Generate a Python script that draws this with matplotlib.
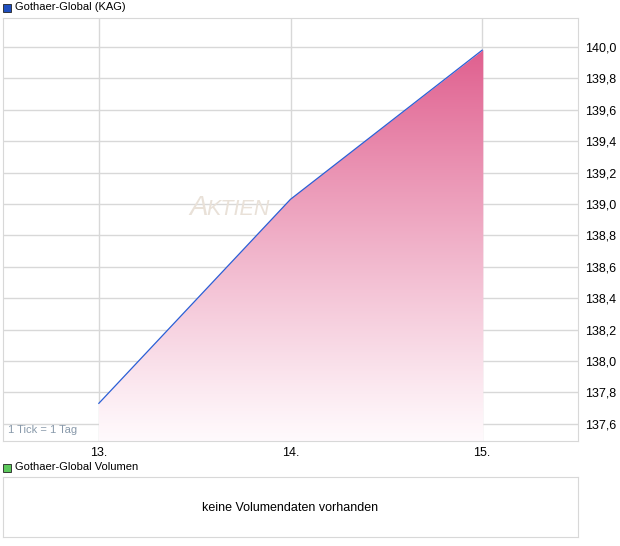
import numpy as np
import matplotlib.pyplot as plt
from matplotlib.patches import Polygon, Rectangle

plt.rcParams['font.family'] = ['Liberation Sans', 'DejaVu Sans']

# Kursdaten (Tag, Kurs)
days = [13, 14, 15]
prices = [137.73, 139.03, 139.98]
y_ticks = [137.6, 137.8, 138.0, 138.2, 138.4, 138.6, 138.8, 139.0, 139.2, 139.4, 139.6, 139.8, 140.0]
x_labels = ['13.', '14.', '15.']

W, H = 620, 546
fig = plt.figure(figsize=(W / 100, H / 100), dpi=100)

grid_col = '#d8d8d8'

# main price panel
ax = fig.add_axes([3 / W, 1 - 441 / H, 575 / W, 423 / H])
ax.set_xlim(12.5, 15.5)
ax.set_ylim(137.49, 140.185)

for s in ax.spines.values():
    s.set_color(grid_col)
ax.set_yticks(y_ticks)
ax.set_yticklabels([f'{v:.1f}'.replace('.', ',') for v in y_ticks])
ax.set_xticks(days)
ax.set_xticklabels(x_labels)
ax.yaxis.tick_right()
ax.tick_params(axis='both', length=0, labelsize=9, colors='black')
ax.tick_params(axis='y', pad=5)
ax.tick_params(axis='x', pad=4)
ax.grid(True, color=grid_col, linewidth=1)
ax.set_axisbelow(True)

# gradient fill below the line
y0, y1 = ax.get_ylim()
edge = 0.006
pts = list(zip(days, prices))
pts[-1] = (days[-1] + edge, prices[-1])
poly = Polygon(pts + [(days[-1] + edge, y0), (days[0], y0)],
               closed=True, facecolor='none', edgecolor='none')
ax.add_patch(poly)
top = np.array([0.878, 0.376, 0.560])
bot = np.array([1.0, 0.98, 0.99])
t = np.linspace(0, 1, 256)[:, None]
grad = (bot + (top - bot) * t ** 1.1)[:, None, :]
im = ax.imshow(grad, extent=[days[0], days[-1] + edge, y0, max(prices)], origin='lower',
               aspect='auto', zorder=2)
im.set_clip_path(poly)
ax.plot(days, prices, color='#2a5fd6', linewidth=0.9, zorder=3)

ax.text(0.325, 0.55, 'A', transform=ax.transAxes, fontsize=20, style='italic',
        color='#e9e1d8', ha='left', va='center', zorder=1)
ax.text(0.354, 0.547, 'KTIEN', transform=ax.transAxes, fontsize=15.5, style='italic',
        color='#e9e1d8', ha='left', va='center', zorder=1)

ax.text(0.008, 0.015, '1 Tick = 1 Tag', transform=ax.transAxes, fontsize=8,
        color='#8899aa', ha='left', va='bottom', zorder=4)

# header legend
fig.patches.append(Rectangle((3 / W, 1 - 12 / H), 8 / W, 8 / H, transform=fig.transFigure,
                             facecolor='#1f4fbf', edgecolor='#222222', linewidth=0.6))
fig.text(15 / W, 1 - 7.5 / H, 'Gothaer-Global (KAG)', fontsize=8, va='center', ha='left')

# volume panel
fig.patches.append(Rectangle((3 / W, 1 - 472 / H), 8 / W, 8 / H, transform=fig.transFigure,
                             facecolor='#5cc85c', edgecolor='#222222', linewidth=0.6))
fig.text(15 / W, 1 - 467.5 / H, 'Gothaer-Global Volumen', fontsize=8, va='center', ha='left')

ax2 = fig.add_axes([3 / W, 1 - 537 / H, 575 / W, 60 / H])
ax2.set_xticks([])
ax2.set_yticks([])
for s in ax2.spines.values():
    s.set_color(grid_col)
ax2.text(0.5, 0.48, 'keine Volumendaten vorhanden', transform=ax2.transAxes,
         fontsize=9, ha='center', va='center')

fig.savefig('out.png', dpi=100)
